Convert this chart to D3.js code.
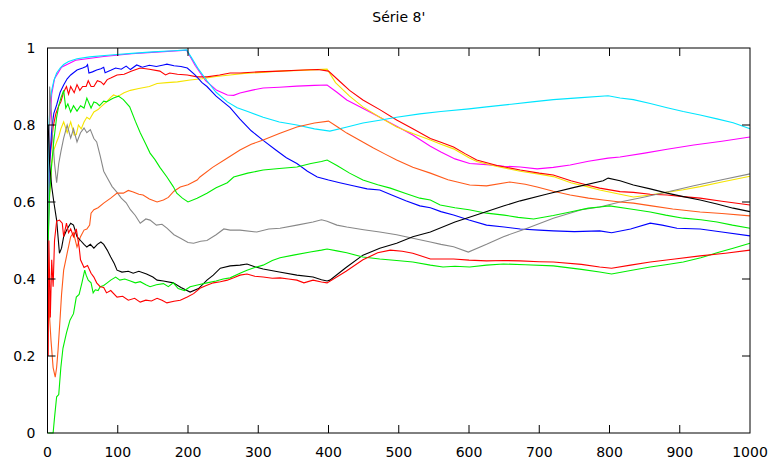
<!DOCTYPE html>
<html>
<head>
<meta charset="utf-8">
<script src="https://cdn.jsdelivr.net/npm/d3@7"></script>
<style>
  body { margin: 0; background: #fff; }
  svg { display: block; font-family: "DejaVu Sans", sans-serif; }
</style>
</head>
<body>
<svg id="drawing_region"></svg>
<script>
const title = "Série 8'";
const xTicks = [0, 100, 200, 300, 400, 500, 600, 700, 800, 900, 1000];
const yTicks = [0, 0.2, 0.4, 0.6, 0.8, 1];

const magenta = [[1,0.6],[3,0.8],[6,0.88],[10,0.92],[20,0.95],[40,0.968],[80,0.978],[120,0.985],[160,0.99],[198,0.994],[210,0.955],[225,0.915],[241,0.89],[256,0.878],[265,0.877],[274,0.883],[290,0.89],[307,0.896],[330,0.898],[355,0.901],[380,0.903],[398,0.904],[412,0.885],[426,0.865],[450,0.842],[473,0.82],[497,0.797],[520,0.774],[545,0.745],[560,0.73],[580,0.712],[601,0.70],[625,0.697],[650,0.693],[673,0.691],[697,0.686],[720,0.69],[744,0.696],[770,0.706],[798,0.714],[815,0.717],[850,0.727],[882,0.737],[920,0.748],[960,0.758],[1000,0.769]];
const yellow = [[1,0.55],[3,0.62],[6,0.7],[9,0.735],[13,0.756],[16,0.77],[19,0.79],[23,0.808],[28,0.78],[33,0.808],[38,0.774],[41,0.775],[44,0.8],[48,0.79],[52,0.808],[56,0.82],[60,0.815],[66,0.834],[72,0.84],[76,0.847],[84,0.86],[90,0.872],[94,0.878],[100,0.874],[109,0.884],[118,0.89],[130,0.895],[145,0.9],[156,0.908],[170,0.91],[185,0.912],[203,0.917],[220,0.92],[240,0.926],[260,0.93],[280,0.934],[300,0.936],[330,0.94],[360,0.942],[398,0.945],[410,0.91],[430,0.875],[449,0.847],[473,0.82],[497,0.795],[520,0.778],[545,0.761],[560,0.75],[578,0.738],[600,0.715],[611,0.705],[640,0.692],[673,0.68],[700,0.672],[720,0.666],[745,0.65],[768,0.64],[786,0.631],[815,0.62],[834,0.613],[858,0.618],[880,0.625],[905,0.632],[929,0.64],[960,0.652],[1000,0.667]];
const red1 = [[1,0.6],[3,0.7],[5,0.74],[8,0.795],[12,0.83],[16,0.85],[19,0.86],[23,0.886],[27,0.9],[30,0.88],[33,0.9],[38,0.884],[42,0.905],[46,0.89],[50,0.9],[55,0.9],[58,0.915],[62,0.9],[66,0.9],[71,0.915],[76,0.912],[80,0.905],[85,0.918],[90,0.922],[99,0.93],[109,0.932],[120,0.94],[132,0.948],[145,0.945],[160,0.94],[168,0.93],[174,0.935],[185,0.932],[199,0.93],[213,0.925],[227,0.925],[245,0.93],[260,0.935],[274,0.935],[300,0.938],[330,0.94],[364,0.943],[385,0.944],[400,0.94],[415,0.915],[430,0.89],[449,0.865],[473,0.84],[497,0.813],[520,0.79],[545,0.765],[560,0.755],[578,0.743],[595,0.725],[611,0.709],[640,0.695],[673,0.683],[700,0.675],[720,0.67],[745,0.655],[768,0.644],[786,0.636],[815,0.627],[834,0.625],[858,0.62],[882,0.618],[905,0.614],[929,0.61],[960,0.602],[1000,0.592]];
const blue = [[1,0.5],[3,0.7],[6,0.79],[9,0.83],[13,0.852],[18,0.885],[23,0.904],[28,0.92],[33,0.93],[42,0.943],[50,0.948],[55,0.952],[57,0.957],[59,0.935],[64,0.938],[70,0.943],[76,0.946],[80,0.95],[82,0.936],[90,0.942],[97,0.948],[105,0.945],[112,0.953],[118,0.944],[127,0.956],[135,0.95],[145,0.955],[155,0.952],[165,0.956],[170,0.958],[180,0.954],[190,0.952],[199,0.948],[210,0.93],[220,0.91],[227,0.9],[240,0.875],[250,0.86],[260,0.845],[274,0.815],[290,0.785],[307,0.76],[325,0.735],[340,0.715],[355,0.70],[370,0.68],[384,0.665],[400,0.657],[416,0.65],[435,0.642],[455,0.634],[473,0.631],[490,0.618],[510,0.603],[530,0.59],[545,0.585],[560,0.575],[578,0.566],[600,0.553],[625,0.54],[650,0.535],[673,0.53],[700,0.527],[720,0.525],[750,0.523],[786,0.525],[803,0.52],[830,0.53],[858,0.545],[875,0.54],[896,0.532],[929,0.53],[960,0.522],[1000,0.512]];
const cyan = [[1,0.5],[2,0.8],[4,0.86],[6,0.89],[9,0.915],[13,0.935],[18,0.948],[23,0.957],[30,0.965],[42,0.972],[60,0.977],[90,0.982],[120,0.986],[150,0.99],[180,0.993],[198,0.995],[205,0.975],[215,0.945],[227,0.915],[240,0.885],[256,0.86],[270,0.845],[285,0.835],[307,0.82],[330,0.808],[355,0.8],[380,0.79],[402,0.784],[425,0.794],[449,0.805],[475,0.813],[497,0.82],[530,0.829],[560,0.835],[600,0.842],[625,0.847],[660,0.854],[690,0.86],[720,0.866],[760,0.871],[798,0.876],[815,0.87],[834,0.866],[858,0.856],[882,0.845],[905,0.835],[929,0.826],[953,0.816],[976,0.806],[1000,0.79]];
const gray = [[1,0.4],[3,0.9],[5,0.85],[7,0.78],[10,0.7],[13,0.65],[16,0.7],[19,0.73],[23,0.766],[28,0.8],[33,0.766],[37,0.79],[42,0.756],[47,0.78],[52,0.792],[56,0.78],[61,0.788],[66,0.765],[70,0.756],[75,0.72],[80,0.68],[86,0.66],[92,0.64],[99,0.625],[105,0.61],[112,0.598],[118,0.58],[125,0.565],[132,0.545],[140,0.556],[146,0.553],[155,0.54],[163,0.542],[170,0.532],[180,0.515],[190,0.505],[200,0.495],[208,0.493],[218,0.498],[227,0.5],[240,0.515],[251,0.53],[260,0.527],[274,0.527],[298,0.522],[315,0.53],[331,0.532],[355,0.54],[378,0.548],[390,0.554],[398,0.55],[412,0.54],[426,0.535],[450,0.528],[473,0.522],[497,0.515],[520,0.506],[545,0.496],[560,0.49],[578,0.484],[599,0.47],[625,0.49],[649,0.51],[680,0.53],[720,0.558],[760,0.58],[786,0.587],[815,0.6],[850,0.613],[882,0.626],[920,0.642],[960,0.658],[1000,0.673]];
const orange = [[1,0.45],[3,0.3],[5,0.24],[8,0.17],[11,0.145],[13,0.17],[15,0.215],[18,0.3],[20,0.36],[23,0.423],[28,0.467],[33,0.51],[37,0.52],[42,0.483],[47,0.51],[52,0.527],[56,0.53],[60,0.54],[62,0.571],[66,0.58],[72,0.585],[80,0.597],[90,0.61],[99,0.623],[108,0.623],[115,0.63],[122,0.626],[130,0.62],[136,0.618],[145,0.608],[156,0.6],[165,0.605],[172,0.612],[180,0.628],[189,0.639],[200,0.645],[213,0.657],[217,0.665],[235,0.69],[255,0.713],[274,0.735],[290,0.75],[307,0.761],[330,0.778],[355,0.795],[380,0.805],[400,0.81],[413,0.795],[426,0.779],[445,0.76],[464,0.74],[480,0.725],[497,0.709],[520,0.69],[545,0.675],[570,0.658],[601,0.644],[625,0.642],[658,0.652],[680,0.646],[697,0.639],[720,0.628],[744,0.618],[770,0.61],[791,0.605],[815,0.6],[834,0.597],[860,0.59],[890,0.582],[929,0.574],[960,0.57],[1000,0.564]];
const green1 = [[1,0.5],[3,0.62],[6,0.7],[9,0.76],[13,0.82],[16,0.85],[19,0.87],[23,0.89],[26,0.844],[29,0.855],[33,0.834],[37,0.85],[42,0.836],[47,0.85],[52,0.844],[56,0.87],[62,0.844],[66,0.86],[70,0.857],[74,0.85],[80,0.862],[84,0.86],[90,0.866],[94,0.87],[101,0.875],[108,0.866],[117,0.847],[125,0.81],[132,0.78],[140,0.75],[146,0.727],[153,0.71],[160,0.69],[170,0.665],[179,0.64],[184,0.623],[192,0.61],[200,0.6],[213,0.61],[227,0.623],[240,0.637],[256,0.65],[265,0.665],[285,0.675],[307,0.683],[330,0.687],[355,0.691],[375,0.7],[390,0.705],[398,0.709],[412,0.695],[430,0.675],[449,0.657],[470,0.645],[488,0.636],[510,0.622],[530,0.61],[545,0.605],[559,0.592],[580,0.585],[600,0.58],[625,0.571],[650,0.566],[670,0.56],[692,0.556],[720,0.565],[744,0.574],[770,0.584],[786,0.587],[800,0.59],[830,0.582],[858,0.574],[880,0.566],[905,0.558],[930,0.554],[953,0.548],[975,0.54],[1000,0.532]];
const black = [[1,0.8],[3,0.7],[6,0.64],[9,0.6],[13,0.553],[17,0.467],[20,0.48],[23,0.51],[28,0.53],[33,0.545],[37,0.54],[42,0.51],[47,0.5],[52,0.49],[56,0.483],[61,0.49],[66,0.48],[71,0.49],[76,0.496],[80,0.49],[85,0.475],[90,0.457],[95,0.44],[99,0.423],[106,0.418],[115,0.42],[122,0.415],[130,0.42],[141,0.413],[150,0.405],[156,0.397],[165,0.395],[179,0.39],[190,0.378],[203,0.366],[215,0.375],[227,0.397],[236,0.41],[246,0.428],[260,0.434],[274,0.436],[284,0.439],[295,0.432],[307,0.426],[330,0.418],[355,0.41],[378,0.405],[390,0.398],[398,0.395],[402,0.397],[425,0.43],[449,0.462],[473,0.48],[497,0.493],[520,0.51],[545,0.522],[580,0.548],[620,0.572],[650,0.59],[673,0.603],[710,0.62],[750,0.638],[791,0.655],[798,0.662],[815,0.655],[834,0.644],[858,0.634],[882,0.623],[905,0.614],[929,0.605],[953,0.595],[976,0.584],[1000,0.575]];
const green2 = [[1,0.0],[8,0.0],[10,0.04],[13,0.094],[16,0.1],[19,0.17],[22,0.22],[27,0.26],[32,0.293],[37,0.31],[41,0.353],[45,0.36],[49,0.39],[53,0.423],[55,0.41],[58,0.397],[62,0.39],[65,0.364],[68,0.372],[72,0.37],[75,0.38],[80,0.383],[85,0.39],[90,0.397],[97,0.405],[103,0.397],[110,0.4],[118,0.395],[125,0.39],[132,0.393],[140,0.385],[146,0.38],[155,0.385],[165,0.388],[172,0.38],[179,0.39],[186,0.375],[195,0.37],[203,0.38],[215,0.385],[227,0.39],[240,0.395],[250,0.4],[260,0.403],[274,0.415],[284,0.423],[295,0.43],[307,0.436],[320,0.448],[331,0.455],[350,0.462],[374,0.47],[390,0.475],[398,0.478],[412,0.473],[426,0.468],[449,0.457],[473,0.452],[497,0.448],[520,0.444],[545,0.436],[563,0.431],[580,0.433],[601,0.431],[625,0.436],[649,0.439],[680,0.437],[720,0.434],[760,0.425],[786,0.418],[803,0.413],[830,0.422],[858,0.431],[880,0.437],[905,0.444],[930,0.455],[953,0.468],[976,0.48],[1000,0.493]];
const red2 = [[1,0.2],[2,0.5],[4,0.3],[6,0.45],[8,0.38],[10,0.5],[13,0.55],[17,0.553],[21,0.545],[23,0.51],[27,0.545],[30,0.52],[33,0.53],[37,0.51],[41,0.53],[45,0.483],[47,0.45],[52,0.43],[57,0.435],[62,0.415],[66,0.405],[70,0.39],[75,0.38],[80,0.378],[84,0.364],[90,0.37],[99,0.353],[107,0.355],[115,0.345],[124,0.35],[132,0.34],[140,0.345],[148,0.343],[156,0.35],[163,0.345],[170,0.338],[180,0.342],[189,0.345],[199,0.353],[208,0.362],[217,0.376],[226,0.383],[236,0.39],[246,0.393],[256,0.397],[265,0.403],[274,0.41],[284,0.413],[295,0.407],[307,0.405],[320,0.402],[331,0.403],[343,0.4],[355,0.397],[365,0.39],[378,0.397],[390,0.392],[398,0.39],[425,0.42],[449,0.45],[470,0.468],[488,0.475],[505,0.472],[520,0.467],[545,0.452],[578,0.452],[600,0.449],[625,0.447],[650,0.448],[673,0.447],[700,0.445],[720,0.444],[760,0.438],[786,0.431],[803,0.428],[830,0.436],[858,0.444],[893,0.452],[929,0.46],[965,0.467],[1000,0.475]];

const seriesList = [
  { name: "magenta", color: "#ff00ff", values: magenta },
  { name: "yellow", color: "#f5e400", values: yellow },
  { name: "red1", color: "#ff0000", values: red1 },
  { name: "blue", color: "#0000ff", values: blue },
  { name: "cyan", color: "#00e5ff", values: cyan },
  { name: "gray", color: "#888888", values: gray },
  { name: "orange", color: "#ff5a1a", values: orange },
  { name: "green1", color: "#00ee00", values: green1 },
  { name: "black", color: "#000000", values: black },
  { name: "green2", color: "#00ee00", values: green2 },
  { name: "red2", color: "#ff0000", values: red2 }
];

class LineChart {
  constructor(config, data) {
    this.config = {
      parent: config.parent,
      width: config.width || 777,
      height: config.height || 463,
      margin: config.margin || { top: 48, right: 27, bottom: 30, left: 48 }
    };
    this.data = data;
    this.init();
  }
  init() {
    let self = this;
    self.inner_width = self.config.width - self.config.margin.left - self.config.margin.right;
    self.inner_height = self.config.height - self.config.margin.top - self.config.margin.bottom;
    self.svg = d3.select(self.config.parent)
      .attr('width', self.config.width)
      .attr('height', self.config.height);
    self.chart = self.svg.append('g')
      .attr('transform', `translate(${self.config.margin.left}, ${self.config.margin.top})`);
    self.xscale = d3.scaleLinear().domain([0, 1000]).range([0, self.inner_width]);
    self.yscale = d3.scaleLinear().domain([0, 1]).range([self.inner_height, 0]);
    self.update();
  }
  update() {
    let self = this;
    self.line = d3.line().x(d => self.xscale(d[0])).y(d => self.yscale(d[1]));
    self.render();
  }
  render() {
    let self = this;
    const w = self.inner_width, h = self.inner_height, tk = 8;

    self.chart.selectAll('.series').data(self.data).enter().append('path')
      .attr('class', 'series')
      .attr('d', d => self.line(d.values))
      .attr('fill', 'none')
      .attr('stroke', d => d.color)
      .attr('stroke-width', 1.1);

    // frame
    self.chart.append('rect')
      .attr('x', 0).attr('y', 0).attr('width', w).attr('height', h)
      .attr('fill', 'none').attr('stroke', 'black').attr('stroke-width', 1);

    // ticks, mirrored on all sides
    const xt = xTicks.slice(1, -1), yt = yTicks.slice(1, -1);
    self.chart.selectAll('.xtb').data(xt).enter().append('line')
      .attr('x1', d => self.xscale(d)).attr('x2', d => self.xscale(d))
      .attr('y1', h).attr('y2', h - tk).attr('stroke', 'black');
    self.chart.selectAll('.xtt').data(xt).enter().append('line')
      .attr('x1', d => self.xscale(d)).attr('x2', d => self.xscale(d))
      .attr('y1', 0).attr('y2', tk).attr('stroke', 'black');
    self.chart.selectAll('.ytl').data(yt).enter().append('line')
      .attr('x1', 0).attr('x2', tk)
      .attr('y1', d => self.yscale(d)).attr('y2', d => self.yscale(d)).attr('stroke', 'black');
    self.chart.selectAll('.ytr').data(yt).enter().append('line')
      .attr('x1', w).attr('x2', w - tk)
      .attr('y1', d => self.yscale(d)).attr('y2', d => self.yscale(d)).attr('stroke', 'black');

    // tick labels
    self.chart.selectAll('.xl').data(xTicks).enter().append('text')
      .attr('x', d => self.xscale(d)).attr('y', h + 24)
      .attr('text-anchor', 'middle').attr('font-size', '14px')
      .text(d => d);
    self.chart.selectAll('.yl').data(yTicks).enter().append('text')
      .attr('x', -12).attr('y', d => self.yscale(d) + 5)
      .attr('text-anchor', 'end').attr('font-size', '14px')
      .text(d => d);

    self.svg.append('text')
      .attr('x', self.config.margin.left + w / 2).attr('y', 22)
      .attr('text-anchor', 'middle').attr('font-size', '14px')
      .text(title);
  }
}

const chart = new LineChart({
  parent: '#drawing_region',
  width: 777,
  height: 463,
  margin: { top: 48, right: 27, bottom: 30, left: 47.5 }
}, seriesList);
</script>
</body>
</html>
